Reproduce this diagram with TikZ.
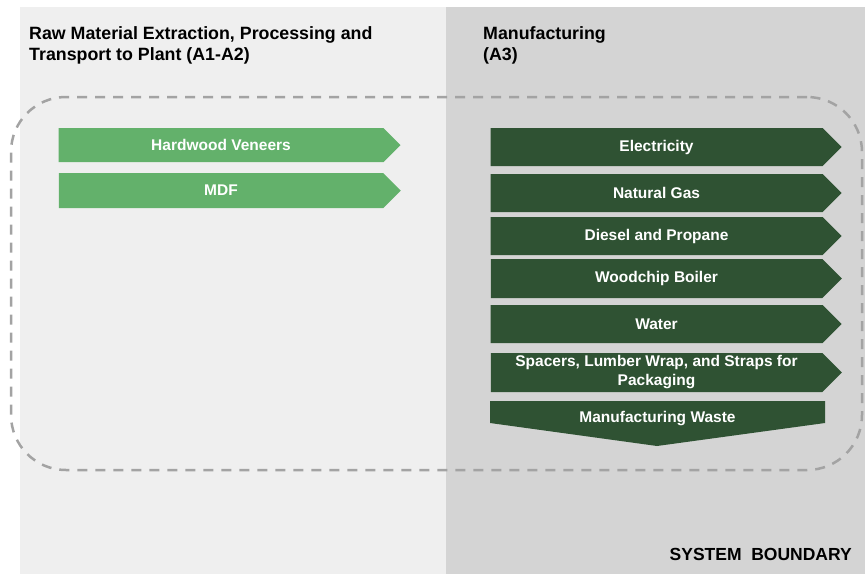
\documentclass[tikz,border=0pt]{standalone}
\usepackage{fontspec}
\setmainfont{Liberation Sans}
\usepackage{xcolor}
\usepackage{tikz}
\usetikzlibrary{shapes,calc,positioning}
\definecolor{panelL}{HTML}{EFEFEF}
\definecolor{panelR}{HTML}{D4D4D4}
\definecolor{rawgreen}{HTML}{63B16B}
\definecolor{mfggreen}{HTML}{2F5233}
\definecolor{dashgray}{HTML}{A3A3A3}
\tikzset{
  header/.style={anchor=north west, align=left, inner sep=0pt,
  font=\bfseries\fontsize{17.8}{21}\selectfont},
  flowtext/.style={inner sep=0pt, text=white, align=center,
  font=\bfseries\fontsize{15.5}{19}\selectfont},
  flow/.style={flowtext, signal, signal to=east, signal pointer angle=90},
  raw/.style={flow, fill=rawgreen, minimum width=342pt, minimum height=34pt},
  mfg/.style={flow, fill=mfggreen, minimum width=351pt, minimum height=38pt},
  boundary/.style={draw=dashgray, line width=2.5pt, dash pattern=on 10pt off 8pt,
  rounded corners=55pt, minimum width=851pt, minimum height=373pt}
}
\begin{document}
\begin{tikzpicture}[x=1pt,y=-1pt]
  \useasboundingbox (0,0) rectangle (865,574);
  % panels
  \fill[panelL] (20,7) rectangle (446,574);
  \fill[panelR] (446,7) rectangle (865,574);
  \node[header] (hraw) at (29,26) {Raw Material Extraction, Processing and\\Transport to Plant (A1-A2)};
  \node[header] (hmfg) at (483,26) {Manufacturing\\(A3)};
  \node[boundary] (sysb) at (436.5,283.5) {};
  % A1-A2
  \node[raw] (veneer) at (221,145) {Hardwood Veneers};
  \node[raw, minimum height=35pt] (mdf) at (221,190.5) {MDF};
  % A3
  \node[mfg] (elec) at (656.5,147) {Electricity};
  \node[mfg] (gas) at (656.5,193) {Natural Gas};
  \node[mfg] (diesel) at (656.5,236) {Diesel and Propane};
  \node[mfg, minimum height=39pt] (boiler) at (656.5,278.5) {Woodchip Boiler};
  \node[mfg] (water) at (656.5,324) {Water};
  \node[mfg, minimum height=39pt] (pack) at (656.5,372.5) {Spacers, Lumber Wrap, and Straps for\\Packaging};
  \fill[mfggreen] (490,401) -- (825,401) -- (825,423) -- (657,446) -- (490,423) -- cycle;
  \node[flowtext] (waste) at (657.5,419) {Manufacturing Waste};
  \node[anchor=base east, inner sep=0pt, font=\bfseries\fontsize{17.5}{20}\selectfont] (sysblabel) at (852,560) {SYSTEM~~BOUNDARY};
\end{tikzpicture}
\end{document}
